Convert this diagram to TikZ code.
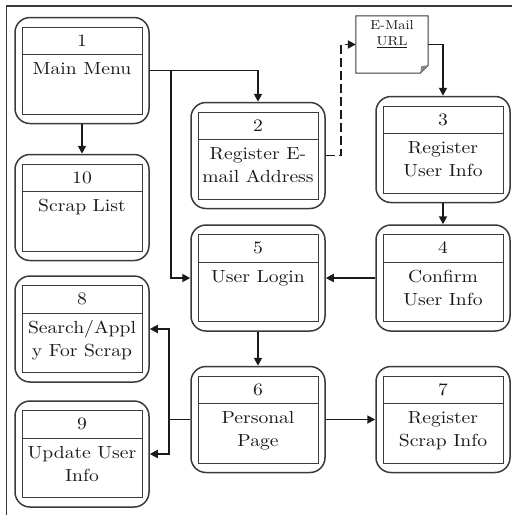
\documentclass[tikz,border=0pt]{standalone}
\usepackage{fontspec}
\setmainfont{lmroman10-regular.otf}[FakeStretch=1.12]
\usetikzlibrary{arrows.meta,calc}
\definecolor{ink}{HTML}{1A1A1A}
\definecolor{edge}{HTML}{3A3A3A}
\tikzset{
  outerbox/.style={draw=edge, line width=1.5pt, rounded corners=15pt,
    minimum width=134pt, minimum height=106pt, inner sep=0pt},
  innerbox/.style={draw=edge, line width=1pt,
    minimum width=120pt, minimum height=87pt, inner sep=0pt},
  divider/.style={draw=edge, line width=1pt},
  numtext/.style={text=ink, font=\fontsize{17.5}{23}\selectfont, inner sep=0pt},
  bodytext/.style={text=ink, font=\fontsize{17.5}{23}\selectfont, align=center,
    inner sep=0pt, anchor=north},
  doctext/.style={text=ink, font=\fontsize{13}{15}\selectfont, inner sep=0pt},
  flow/.style={draw=ink, line width=1.8pt, -{Triangle[length=8pt,width=8pt]}},
  plainflow/.style={draw=ink, line width=1.8pt},
  dashflow/.style={flow, dash pattern=on 9pt off 4pt},
}
% screen box: name, x, y, number, caption
\newcommand\scrbox[5]{%
  \node[outerbox] (#1) at (#2,#3) {};
  \node[innerbox] (#1in) at (#2,#3) {};
  \draw[divider] ([yshift=-28pt]#1in.north west) -- ([yshift=-28pt]#1in.north east);
  \node[numtext] (#1num) at ([yshift=-14pt]#1in.north) {#4};
  \node[bodytext] (#1txt) at ([yshift=-32pt]#1in.north) {\strut #5};
}
\begin{document}
\begin{tikzpicture}[x=1pt,y=-1pt]
  \useasboundingbox (0,0) rectangle (512,515);
  % page frame (left and top edges)
  \draw[edge, line width=1.8pt] (6.5,515) -- (6.5,6) -- (512,6);

  \scrbox{b1}{82}{70.5}{1}{Main Menu}
  \scrbox{b10}{82}{207.5}{10}{Scrap List}
  \scrbox{b8}{82}{329}{8}{Search/Appl\\y For Scrap}
  \scrbox{b9}{82}{454}{9}{Update User\\Info}
  \scrbox{b2}{258}{155.5}{2}{Register E-\\mail Address}
  \scrbox{b5}{258}{278}{5}{User Login}
  \scrbox{b6}{258}{419.5}{6}{Personal\\Page}
  \scrbox{b3}{443}{149.5}{3}{Register\\User Info}
  \scrbox{b4}{443}{278}{4}{Confirm\\User Info}
  \scrbox{b7}{443}{419.5}{7}{Register\\Scrap Info}

  % e-mail document with folded corner
  \node[inner sep=0pt, minimum width=72pt, minimum height=57pt] (doc) at (392,44.5) {};
  \draw[edge, line width=1pt, fill=white]
    (doc.north west) -- (doc.north east) -- ([yshift=8pt]doc.south east)
    -- ([xshift=-8pt]doc.south east) -- (doc.south west) -- cycle;
  \fill[edge!60] ([yshift=8pt]doc.south east) -- ([xshift=-8pt]doc.south east)
    -- ([xshift=-7pt,yshift=7pt]doc.south east) -- cycle;
  \node[doctext] (doctitle) at ([yshift=-9pt]doc.north) {E-Mail};
  \node[doctext] (docurl) at ([yshift=-26pt]doc.north) {\underline{URL}};

  % connectors
  \coordinate (j1) at ($(b1.east)+(21,0)$);
  \coordinate (j2) at ($(b6.west)+(-21,0)$);
  \draw[flow] (b1.east) -| (b2.north);
  \draw[flow] (j1) |- (b5.west);
  \draw[flow] (b1.south) -- (b10.north);
  \draw[dashflow] (b2.east) -- ++(15,0) |- (doc.west);
  \draw[flow] (doc.east) -| (b3.north);
  \draw[flow] (b3.south) -- (b4.north);
  \draw[flow] (b4.west) -- (b5.east);
  \draw[flow] (b5.south) -- (b6.north);
  \draw[flow] (b6.east) -- (b7.west);
  \draw[plainflow] (b6.west) -- (j2);
  \draw[flow] (j2) |- (b8.east);
  \draw[flow] (j2) |- (b9.east);
\end{tikzpicture}
\end{document}
